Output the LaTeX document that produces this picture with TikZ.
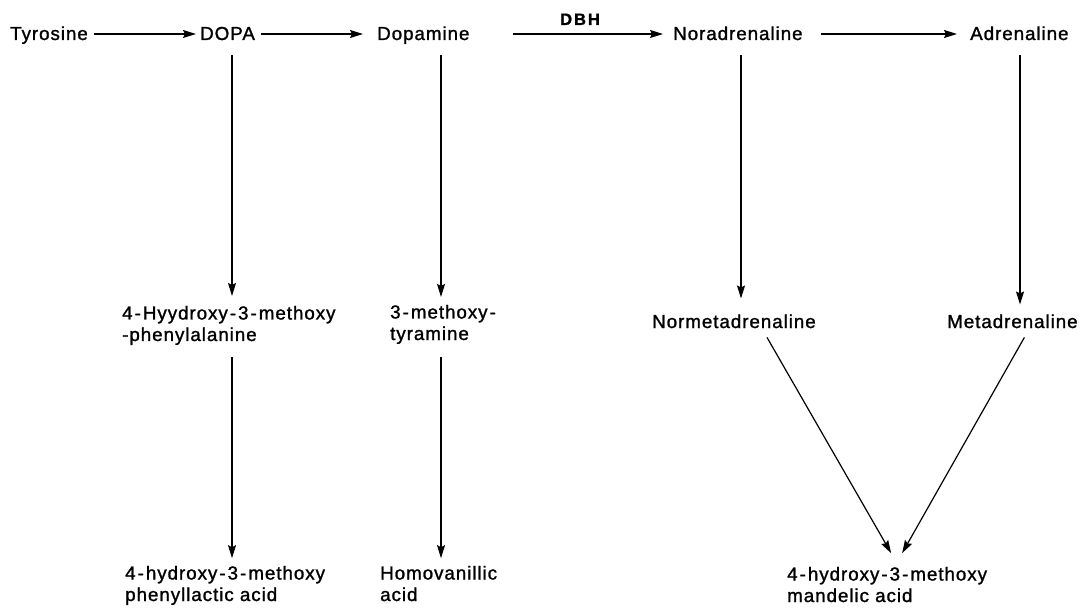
\documentclass[tikz,border=0pt]{standalone}
\usepackage{fontspec}
\setmainfont{Liberation Sans}[LetterSpace=5,FakeBold=1.3]
\usetikzlibrary{arrows.meta}
\newcommand\hyph{\kern2pt-\kern2pt}
\begin{document}
\begin{tikzpicture}[x=1pt,y=-1pt,
  lbl/.style={inner sep=0pt, anchor=base west, align=left, font=\fontsize{18.8}{21.5}\selectfont},
  enz/.style={inner sep=0pt, anchor=base west, font=\fontsize{16.5}{18}\selectfont\bfseries\addfontfeature{LetterSpace=12}},
  arr/.style={line width=1.2pt, -{Stealth[length=13pt,width=8pt,inset=2pt]}},
]
\useasboundingbox (0,0) rectangle (1086,609);
% top row
\node[lbl] (tyr) at (10,40) {Tyrosine};
\node[lbl] (dopa) at (200,40) {DOPA};
\node[lbl] (dopamine) at (377,40) {Dopamine};
\node[lbl] (nor) at (673,40) {Noradrenaline};
\node[lbl] (adr) at (970,40) {Adrenaline};
\node[enz] (dbh) at (560,25) {DBH};
% middle row
\node[lbl] (hmp) at (122,341) {4\hyph Hyydroxy\hyph 3\hyph methoxy\\-phenylalanine};
\node[lbl] (mt) at (390,340) {3\hyph methoxy\hyph\\tyramine};
\node[lbl] (nmn) at (652,328) {Normetadrenaline};
\node[lbl] (mn) at (947,328) {Metadrenaline};
% bottom row
\node[lbl] (hpla) at (125,601) {4\hyph hydroxy\hyph 3\hyph methoxy\\phenyllactic acid};
\node[lbl] (hva) at (380,601) {Homovanillic\\acid};
\node[lbl] (vma) at (787,602) {4\hyph hydroxy\hyph 3\hyph methoxy\\mandelic acid};
% columns
\coordinate (c1) at (232,0);
\coordinate (c2) at (441,0);
\coordinate (c3) at (741,0);
\coordinate (c4) at (1020,0);
% horizontal arrows
\draw[arr, shorten <=6pt, shorten >=4pt] ([yshift=6pt]tyr.base east) -- ([yshift=6pt]dopa.base west);
\draw[arr, shorten <=6pt, shorten >=14pt] ([yshift=6pt]dopa.base east) -- ([yshift=6pt]dopamine.base west);
\draw[arr, shorten <=43pt, shorten >=10pt] ([yshift=6pt]dopamine.base east) -- ([yshift=6pt]nor.base west);
\draw[arr, shorten <=18pt, shorten >=13pt] ([yshift=6pt]nor.base east) -- ([yshift=6pt]adr.base west);
% vertical arrows
\draw[arr, shorten <=15pt, shorten >=9.7pt] (dopa.south -| c1) -- (hmp.north -| c1);
\draw[arr, shorten <=12pt, shorten >=7.5pt] (hmp.south -| c1) -- (hpla.north -| c1);
\draw[arr, shorten <=11pt, shorten >=7.7pt] (dopamine.south -| c2) -- (mt.north -| c2);
\draw[arr, shorten <=13pt, shorten >=7.5pt] (mt.south -| c2) -- (hva.north -| c2);
\draw[arr, shorten <=15pt, shorten >=15.7pt] (nor.south -| c3) -- (nmn.north -| c3);
\draw[arr, shorten <=15pt, shorten >=9.7pt] (adr.south -| c4) -- (mn.north -| c4);
% diagonal arrows
\draw[arr] ([xshift=33pt,yshift=-9pt]nmn.south) -- ([xshift=4pt,yshift=13.5pt]vma.north);
\draw[arr] ([xshift=12pt,yshift=-9pt]mn.south) -- ([xshift=15pt,yshift=13.5pt]vma.north);
\end{tikzpicture}
\end{document}
